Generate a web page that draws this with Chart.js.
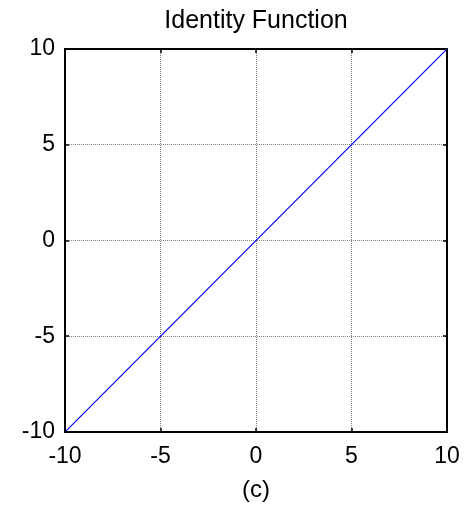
<!DOCTYPE html>
<html>
<head>
<meta charset="utf-8">
<script src="https://cdn.jsdelivr.net/npm/chart.js@4/dist/chart.umd.min.js"></script>
<style>
html,body{margin:0;padding:0;background:#fff;}
#wrap{width:475px;height:508px;}
</style>
</head>
<body>
<div id="wrap"><canvas id="c" width="475" height="508"></canvas></div>
<script>
const xValues = [-10, 10];
const yValues = [-10, 10];
const xTicks = [-10, -5, 0, 5, 10];
const yTicks = [-10, -5, 0, 5, 10];
const titleText = 'Identity Function';
const xLabel = '(c)';

const FONT = '"Liberation Sans", Arial, sans-serif';

const boxPlugin = {
  id: 'box',
  afterDatasetsDraw(chart) {
    const ctx = chart.ctx, a = chart.chartArea;
    const xs = chart.scales.x, ys = chart.scales.y;
    ctx.save();
    ctx.strokeStyle = '#000';
    ctx.lineWidth = 2;
    ctx.strokeRect(a.left, a.top, a.right - a.left, a.bottom - a.top);
    ctx.lineWidth = 1.5;
    const L = 4;
    ctx.beginPath();
    xTicks.forEach(v => {
      const px = Math.round(xs.getPixelForValue(v));
      ctx.moveTo(px, a.bottom); ctx.lineTo(px, a.bottom - L);
      ctx.moveTo(px, a.top); ctx.lineTo(px, a.top + L);
    });
    yTicks.forEach(v => {
      const py = Math.round(ys.getPixelForValue(v));
      ctx.moveTo(a.left, py); ctx.lineTo(a.left + L, py);
      ctx.moveTo(a.right, py); ctx.lineTo(a.right - L, py);
    });
    ctx.stroke();
    // title centred over the plot area
    ctx.fillStyle = '#000';
    ctx.font = '25px ' + FONT;
    ctx.textAlign = 'center';
    ctx.textBaseline = 'alphabetic';
    ctx.fillText(titleText, (a.left + a.right) / 2, 28);
    ctx.restore();
  }
};

new Chart(document.getElementById('c'), {
  type: 'line',
  data: {
    datasets: [{
      data: xValues.map((x, i) => ({x: x, y: yValues[i]})),
      borderColor: '#0000ff',
      borderWidth: 1.2,
      pointRadius: 0,
      fill: false,
      tension: 0
    }]
  },
  options: {
    responsive: false,
    animation: false,
    layout: { padding: { left: 0, right: 28, top: 49, bottom: 0 } },
    plugins: {
      legend: { display: false },
      tooltip: { enabled: false },
      title: { display: false }
    },
    scales: {
      x: {
        type: 'linear',
        min: -10, max: 10,
        afterBuildTicks: s => { s.ticks = xTicks.map(v => ({value: v})); },
        afterFit: s => { s.height = 76; },
        ticks: {
          color: '#000',
          font: { family: FONT, size: 23 },
          padding: 11,
          maxRotation: 0
        },
        grid: { color: '#808080', lineWidth: 1, drawTicks: false },
        border: { display: false, dash: [1, 1] },
        title: {
          display: true,
          text: xLabel,
          color: '#000',
          font: { family: FONT, size: 24 },
          padding: { top: 0, bottom: 3 }
        }
      },
      y: {
        type: 'linear',
        min: -10, max: 10,
        afterBuildTicks: s => { s.ticks = yTicks.map(v => ({value: v})); },
        afterFit: s => { s.width = 65; },
        ticks: {
          color: '#000',
          font: { family: FONT, size: 23 },
          padding: 10
        },
        grid: { color: '#808080', lineWidth: 1, drawTicks: false },
        border: { display: false, dash: [1, 1] }
      }
    }
  },
  plugins: [boxPlugin]
});
</script>
</body>
</html>
